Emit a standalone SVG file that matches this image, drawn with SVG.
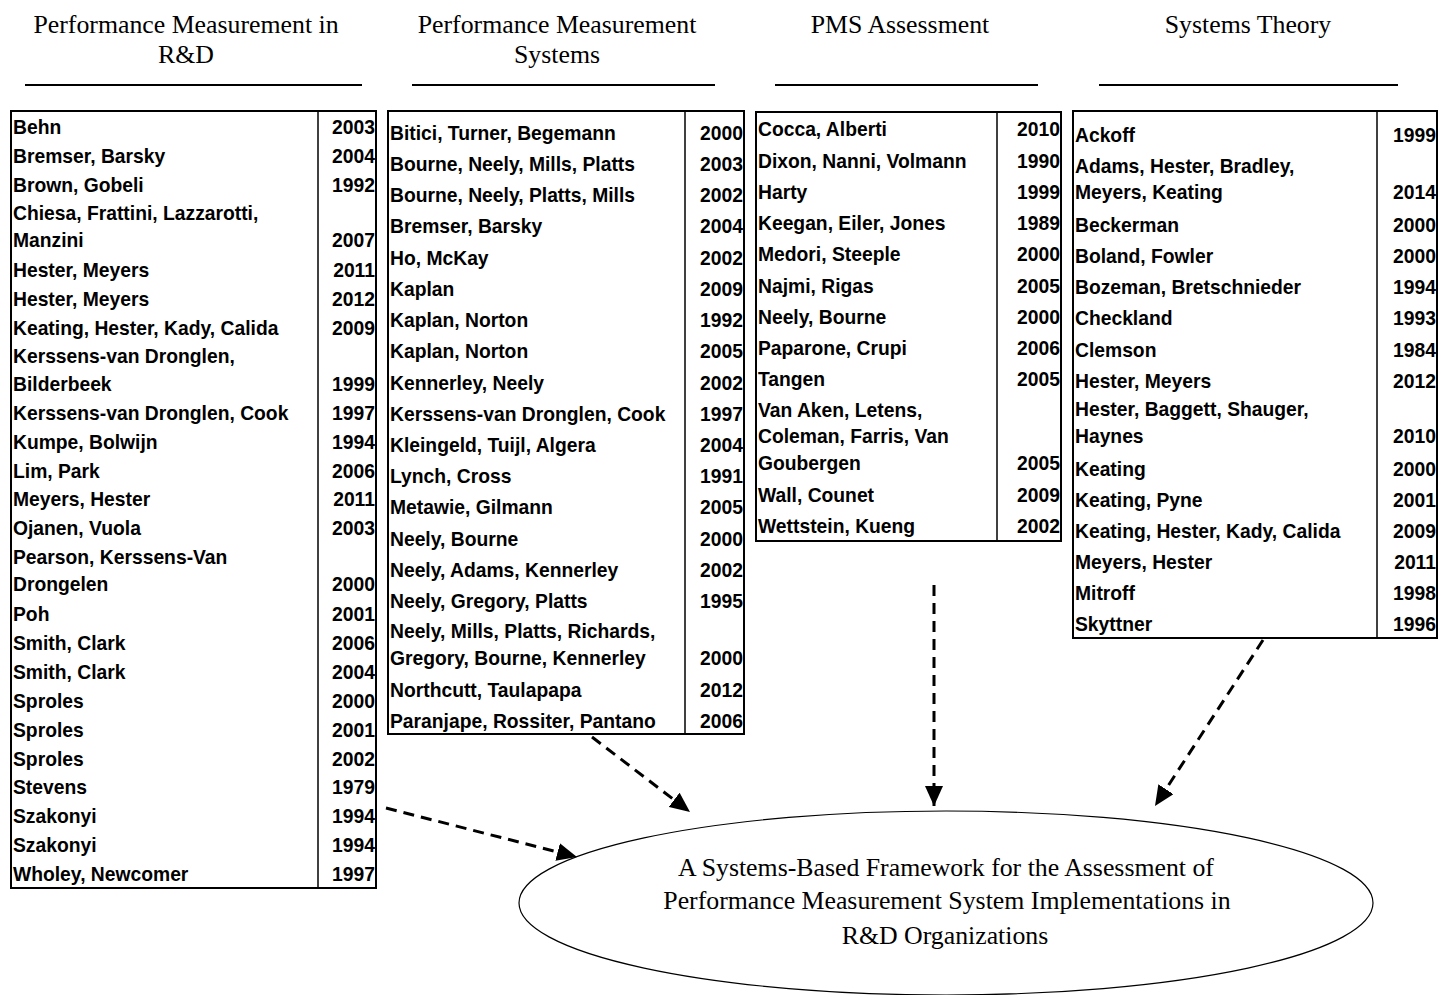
<svg xmlns="http://www.w3.org/2000/svg" width="1438" height="995" viewBox="0 0 1438 995">
<style>
.h{font-family:"Liberation Serif","Times New Roman",serif;font-size:25.8px;fill:#000;text-anchor:middle}
.t{font-family:"Liberation Sans",Arial,sans-serif;font-weight:bold;font-size:19.3px;fill:#000}
.y{text-anchor:end}
.box{fill:#fff;stroke:#000;stroke-width:2}
.div{stroke:#000;stroke-width:1.5}
.rule{stroke:#000;stroke-width:2}
.conn{fill:none;stroke:#000;stroke-width:3;stroke-dasharray:11 7}
</style>
<defs>
<marker id="ah" markerUnits="userSpaceOnUse" markerWidth="22" markerHeight="18" refX="20" refY="9" orient="auto">
<path d="M0,0 L20,9 L0,18 Z" fill="#000"/>
</marker>
</defs>
<rect width="1438" height="995" fill="#fff"/>

<g id="headings">
<text class="h" x="186" y="33">Performance Measurement in</text>
<text class="h" x="186" y="63">R&amp;D</text>
<text class="h" x="557" y="33">Performance Measurement</text>
<text class="h" x="557" y="63">Systems</text>
<text class="h" x="900" y="33">PMS Assessment</text>
<text class="h" x="1248" y="33">Systems Theory</text>
<line class="rule" x1="25" y1="85" x2="362" y2="85"/>
<line class="rule" x1="412" y1="85" x2="715" y2="85"/>
<line class="rule" x1="775" y1="85" x2="1038" y2="85"/>
<line class="rule" x1="1099" y1="85" x2="1398" y2="85"/>
</g>

<g id="table-rd">
<rect class="box" x="11" y="111" width="365" height="777"/>
<line class="div" x1="318" y1="111" x2="318" y2="888"/>
<text class="t" x="13" y="134">Behn</text><text class="t y" x="375" y="134">2003</text>
<text class="t" x="13" y="163">Bremser, Barsky</text><text class="t y" x="375" y="163">2004</text>
<text class="t" x="13" y="192">Brown, Gobeli</text><text class="t y" x="375" y="192">1992</text>
<text class="t" x="13" y="220">Chiesa, Frattini, Lazzarotti,</text>
<text class="t" x="13" y="247">Manzini</text><text class="t y" x="375" y="247">2007</text>
<text class="t" x="13" y="277">Hester, Meyers</text><text class="t y" x="375" y="277">2011</text>
<text class="t" x="13" y="306">Hester, Meyers</text><text class="t y" x="375" y="306">2012</text>
<text class="t" x="13" y="335">Keating, Hester, Kady, Calida</text><text class="t y" x="375" y="335">2009</text>
<text class="t" x="13" y="363">Kerssens-van Dronglen,</text>
<text class="t" x="13" y="391">Bilderbeek</text><text class="t y" x="375" y="391">1999</text>
<text class="t" x="13" y="420">Kerssens-van Dronglen, Cook</text><text class="t y" x="375" y="420">1997</text>
<text class="t" x="13" y="449">Kumpe, Bolwijn</text><text class="t y" x="375" y="449">1994</text>
<text class="t" x="13" y="478">Lim, Park</text><text class="t y" x="375" y="478">2006</text>
<text class="t" x="13" y="506">Meyers, Hester</text><text class="t y" x="375" y="506">2011</text>
<text class="t" x="13" y="535">Ojanen, Vuola</text><text class="t y" x="375" y="535">2003</text>
<text class="t" x="13" y="564">Pearson, Kerssens-Van</text>
<text class="t" x="13" y="591">Drongelen</text><text class="t y" x="375" y="591">2000</text>
<text class="t" x="13" y="621">Poh</text><text class="t y" x="375" y="621">2001</text>
<text class="t" x="13" y="650">Smith, Clark</text><text class="t y" x="375" y="650">2006</text>
<text class="t" x="13" y="679">Smith, Clark</text><text class="t y" x="375" y="679">2004</text>
<text class="t" x="13" y="708">Sproles</text><text class="t y" x="375" y="708">2000</text>
<text class="t" x="13" y="737">Sproles</text><text class="t y" x="375" y="737">2001</text>
<text class="t" x="13" y="766">Sproles</text><text class="t y" x="375" y="766">2002</text>
<text class="t" x="13" y="794">Stevens</text><text class="t y" x="375" y="794">1979</text>
<text class="t" x="13" y="823">Szakonyi</text><text class="t y" x="375" y="823">1994</text>
<text class="t" x="13" y="852">Szakonyi</text><text class="t y" x="375" y="852">1994</text>
<text class="t" x="13" y="881">Wholey, Newcomer</text><text class="t y" x="375" y="881">1997</text>
</g>

<g id="table-pms">
<rect class="box" x="388" y="111" width="356" height="623"/>
<line class="div" x1="685" y1="111" x2="685" y2="734"/>
<text class="t" x="390" y="140">Bitici, Turner, Begemann</text><text class="t y" x="743" y="140">2000</text>
<text class="t" x="390" y="171">Bourne, Neely, Mills, Platts</text><text class="t y" x="743" y="171">2003</text>
<text class="t" x="390" y="202">Bourne, Neely, Platts, Mills</text><text class="t y" x="743" y="202">2002</text>
<text class="t" x="390" y="233">Bremser, Barsky</text><text class="t y" x="743" y="233">2004</text>
<text class="t" x="390" y="265">Ho, McKay</text><text class="t y" x="743" y="265">2002</text>
<text class="t" x="390" y="296">Kaplan</text><text class="t y" x="743" y="296">2009</text>
<text class="t" x="390" y="327">Kaplan, Norton</text><text class="t y" x="743" y="327">1992</text>
<text class="t" x="390" y="358">Kaplan, Norton</text><text class="t y" x="743" y="358">2005</text>
<text class="t" x="390" y="390">Kennerley, Neely</text><text class="t y" x="743" y="390">2002</text>
<text class="t" x="390" y="421">Kerssens-van Dronglen, Cook</text><text class="t y" x="743" y="421">1997</text>
<text class="t" x="390" y="452">Kleingeld, Tuijl, Algera</text><text class="t y" x="743" y="452">2004</text>
<text class="t" x="390" y="483">Lynch, Cross</text><text class="t y" x="743" y="483">1991</text>
<text class="t" x="390" y="514">Metawie, Gilmann</text><text class="t y" x="743" y="514">2005</text>
<text class="t" x="390" y="546">Neely, Bourne</text><text class="t y" x="743" y="546">2000</text>
<text class="t" x="390" y="577">Neely, Adams, Kennerley</text><text class="t y" x="743" y="577">2002</text>
<text class="t" x="390" y="608">Neely, Gregory, Platts</text><text class="t y" x="743" y="608">1995</text>
<text class="t" x="390" y="638">Neely, Mills, Platts, Richards,</text>
<text class="t" x="390" y="665">Gregory, Bourne, Kennerley</text><text class="t y" x="743" y="665">2000</text>
<text class="t" x="390" y="697">Northcutt, Taulapapa</text><text class="t y" x="743" y="697">2012</text>
<text class="t" x="390" y="728">Paranjape, Rossiter, Pantano</text><text class="t y" x="743" y="728">2006</text>
</g>

<g id="table-assessment">
<rect class="box" x="756" y="112" width="305" height="429"/>
<line class="div" x1="997" y1="112" x2="997" y2="541"/>
<text class="t" x="758" y="136">Cocca, Alberti</text><text class="t y" x="1060" y="136">2010</text>
<text class="t" x="758" y="168">Dixon, Nanni, Volmann</text><text class="t y" x="1060" y="168">1990</text>
<text class="t" x="758" y="199">Harty</text><text class="t y" x="1060" y="199">1999</text>
<text class="t" x="758" y="230">Keegan, Eiler, Jones</text><text class="t y" x="1060" y="230">1989</text>
<text class="t" x="758" y="261">Medori, Steeple</text><text class="t y" x="1060" y="261">2000</text>
<text class="t" x="758" y="293">Najmi, Rigas</text><text class="t y" x="1060" y="293">2005</text>
<text class="t" x="758" y="324">Neely, Bourne</text><text class="t y" x="1060" y="324">2000</text>
<text class="t" x="758" y="355">Paparone, Crupi</text><text class="t y" x="1060" y="355">2006</text>
<text class="t" x="758" y="386">Tangen</text><text class="t y" x="1060" y="386">2005</text>
<text class="t" x="758" y="417">Van Aken, Letens,</text>
<text class="t" x="758" y="443">Coleman, Farris, Van</text>
<text class="t" x="758" y="470">Goubergen</text><text class="t y" x="1060" y="470">2005</text>
<text class="t" x="758" y="502">Wall, Counet</text><text class="t y" x="1060" y="502">2009</text>
<text class="t" x="758" y="533">Wettstein, Kueng</text><text class="t y" x="1060" y="533">2002</text>
</g>

<g id="table-systems">
<rect class="box" x="1073" y="111" width="364" height="527"/>
<line class="div" x1="1377" y1="111" x2="1377" y2="638"/>
<text class="t" x="1075" y="142">Ackoff</text><text class="t y" x="1436" y="142">1999</text>
<text class="t" x="1075" y="173">Adams, Hester, Bradley,</text>
<text class="t" x="1075" y="199">Meyers, Keating</text><text class="t y" x="1436" y="199">2014</text>
<text class="t" x="1075" y="232">Beckerman</text><text class="t y" x="1436" y="232">2000</text>
<text class="t" x="1075" y="263">Boland, Fowler</text><text class="t y" x="1436" y="263">2000</text>
<text class="t" x="1075" y="294">Bozeman, Bretschnieder</text><text class="t y" x="1436" y="294">1994</text>
<text class="t" x="1075" y="325">Checkland</text><text class="t y" x="1436" y="325">1993</text>
<text class="t" x="1075" y="357">Clemson</text><text class="t y" x="1436" y="357">1984</text>
<text class="t" x="1075" y="388">Hester, Meyers</text><text class="t y" x="1436" y="388">2012</text>
<text class="t" x="1075" y="416">Hester, Baggett, Shauger,</text>
<text class="t" x="1075" y="443">Haynes</text><text class="t y" x="1436" y="443">2010</text>
<text class="t" x="1075" y="476">Keating</text><text class="t y" x="1436" y="476">2000</text>
<text class="t" x="1075" y="507">Keating, Pyne</text><text class="t y" x="1436" y="507">2001</text>
<text class="t" x="1075" y="538">Keating, Hester, Kady, Calida</text><text class="t y" x="1436" y="538">2009</text>
<text class="t" x="1075" y="569">Meyers, Hester</text><text class="t y" x="1436" y="569">2011</text>
<text class="t" x="1075" y="600">Mitroff</text><text class="t y" x="1436" y="600">1998</text>
<text class="t" x="1075" y="631">Skyttner</text><text class="t y" x="1436" y="631">1996</text>
</g>

<g id="framework">
<ellipse cx="946" cy="903" rx="427" ry="92" fill="#fff" stroke="#000" stroke-width="1.2"/>
<text class="h" x="946" y="876">A Systems-Based Framework for the Assessment of</text>
<text class="h" x="947" y="909">Performance Measurement System Implementations in</text>
<text class="h" x="945" y="944">R&amp;D Organizations</text>
</g>

<g id="connectors">
<line class="conn" x1="386" y1="808" x2="577" y2="857" marker-end="url(#ah)"/>
<line class="conn" x1="592" y1="737" x2="690" y2="812" marker-end="url(#ah)"/>
<line class="conn" x1="934" y1="585" x2="934" y2="806" marker-end="url(#ah)"/>
<line class="conn" x1="1263" y1="640" x2="1155" y2="806" marker-end="url(#ah)"/>
</g>
</svg>
